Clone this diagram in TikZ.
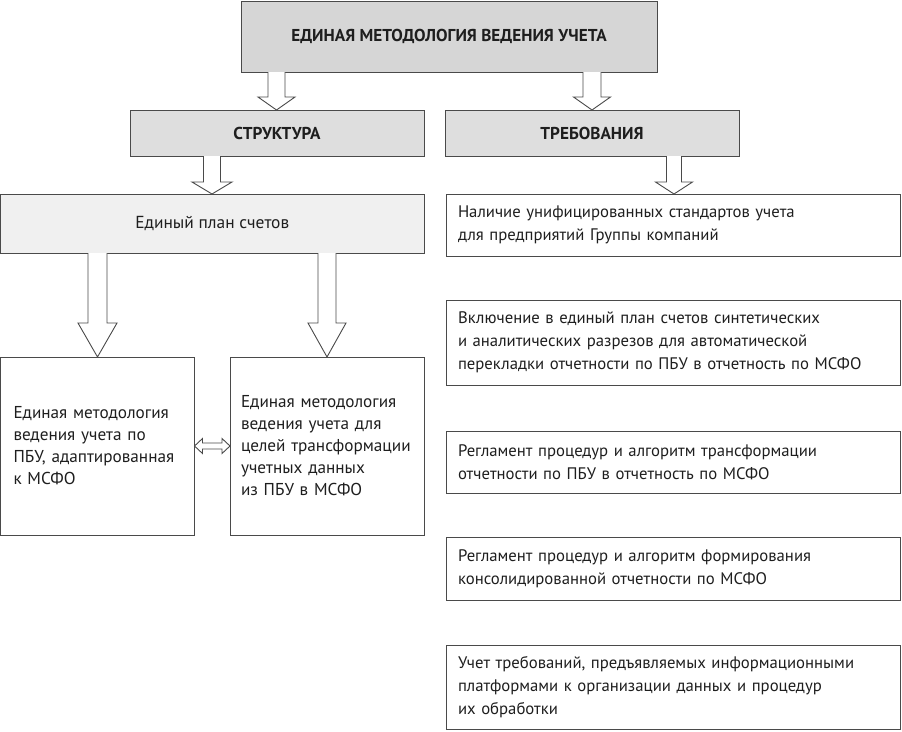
\documentclass[tikz,border=0pt]{standalone}
\usepackage{fontspec}
\setmainfont{PT Sans}
\usetikzlibrary{calc}
\definecolor{edge}{HTML}{4A4A4A}
\definecolor{txt}{HTML}{1E1E1E}
\definecolor{gA}{HTML}{D6D6D6}
\definecolor{gB}{HTML}{DEDEDE}
\definecolor{gC}{HTML}{F0F0F0}
\newcommand\barrow[6]{% from, to, x, shaft half-width, head half-width, head length
  \draw[barr] let \p1=(#1.south), \p2=(#2.north) in
    ({#3-#4},\y1) -- ({#3-#4},{\y2+#6}) -- ({#3-#5},{\y2+#6}) -- (#3,\y2)
    -- ({#3+#5},{\y2+#6}) -- ({#3+#4},{\y2+#6}) -- ({#3+#4},\y1);}
\begin{document}
\begin{tikzpicture}[x=1pt,y=1pt,
  every node/.style={text=txt},
  box/.style={draw=edge, line width=1pt, rectangle, anchor=north west,
    inner ysep=0pt, outer sep=0pt, font=\fontsize{16.7}{23}\selectfont},
  head/.style={box, inner xsep=0pt, align=center, font=\fontsize{17.2}{20}\selectfont\bfseries},
  lbox/.style={box, inner xsep=12pt, align=left},
  sbox/.style={lbox, font=\fontsize{17.2}{22}\selectfont},
  barr/.style={draw=edge, line width=0.9pt, fill=white, line join=miter}]
\useasboundingbox (0,0) rectangle (902,-731);

\node[head, fill=gA, minimum width=416pt, minimum height=71pt] (top) at (241,-1)
  {ЕДИНАЯ МЕТОДОЛОГИЯ ВЕДЕНИЯ УЧЕТА};
\node[head, fill=gB, minimum width=294pt, minimum height=46pt] (struct) at (130,-110)
  {СТРУКТУРА};
\node[head, fill=gB, minimum width=294pt, minimum height=46pt] (req) at (445,-110)
  {ТРЕБОВАНИЯ};
\node[box, fill=gC, inner xsep=0pt, align=center, minimum width=423.5pt, minimum height=59pt,
  font=\fontsize{17.4}{22}\selectfont] (plan) at (0.5,-194)
  {Единый план счетов};
\node[sbox, inner xsep=13pt, text width=168pt, minimum height=178pt] (left) at (0.5,-357)
  {Единая методология\\ведения учета по\\ПБУ, адаптированная\\к МСФО};
\node[sbox, inner xsep=11pt, text width=172pt, minimum height=178pt] (mid) at (230,-357)
  {Единая методология\\ведения учета для\\целей трансформации\\учетных данных\\из ПБУ в МСФО};
\node[lbox, text width=430pt, minimum height=62pt] (r1) at (446,-194)
  {Наличие унифицированных стандартов учета\\для предприятий Группы компаний};
\node[lbox, text width=430pt, minimum height=85pt] (r2) at (446,-300)
  {Включение в единый план счетов синтетических\\и аналитических разрезов для автоматической\\перекладки отчетности по ПБУ в отчетность по МСФО};
\node[lbox, text width=430pt, minimum height=62pt] (r3) at (446,-431)
  {Регламент процедур и алгоритм трансформации\\отчетности по ПБУ в отчетность по МСФО};
\node[lbox, text width=430pt, minimum height=63pt] (r4) at (446,-537)
  {Регламент процедур и алгоритм формирования\\консолидированной отчетности по МСФО};
\node[lbox, text width=430pt, minimum height=84pt] (r5) at (446,-645)
  {Учет требований, предъявляемых информационными\\платформами к организации данных и процедур\\их обработки};

\barrow{top}{struct}{276.5}{8.5}{18.5}{13}
\barrow{top}{req}{592}{9}{18.5}{13}
\barrow{struct}{plan}{212}{8.5}{20}{12}
\barrow{req}{r1}{674}{7.5}{18.5}{12}
\barrow{plan}{left}{97.5}{9.5}{19.5}{34}
\barrow{plan}{mid}{327}{9}{19}{34}

\draw[barr] let \p1=(left.east), \p2=(mid.west) in
  (\x1,-446) -- ({\x1+8},-438.5) -- ({\x1+8},-443) -- ({\x2-8},-443) -- ({\x2-8},-438.5)
  -- (\x2,-446) -- ({\x2-8},-453.5) -- ({\x2-8},-449) -- ({\x1+8},-449) -- ({\x1+8},-453.5) -- cycle;
\end{tikzpicture}
\end{document}
